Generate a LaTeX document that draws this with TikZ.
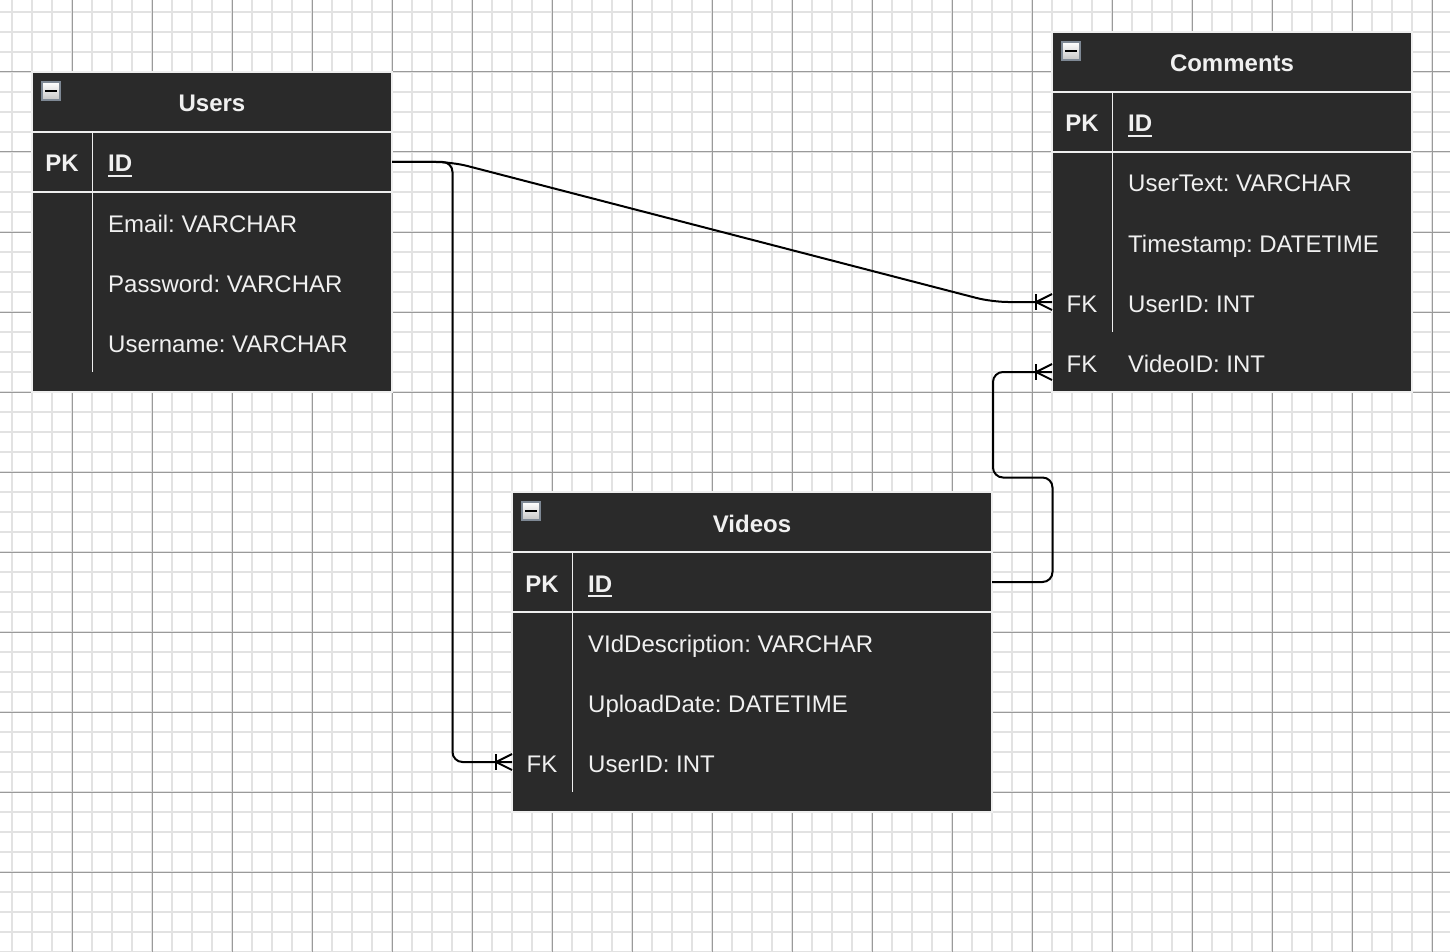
\documentclass[tikz,border=0pt]{standalone}
\usepackage{fontspec}
\setmainfont{Liberation Sans}
\usetikzlibrary{calc}
\frenchspacing

\definecolor{tablefill}{HTML}{2A2A2A}
\definecolor{tabletext}{HTML}{F0F0F0}
\definecolor{sepline}{HTML}{EEEEEE}
\definecolor{gridminorc}{HTML}{E2E2E2}
\definecolor{gridmajorc}{HTML}{9A9A9A}
\definecolor{iconedge}{HTML}{7E8894}

\tikzset{
  gridminor/.style={draw=gridminorc, line width=1.6pt},
  gridmajor/.style={draw=gridmajorc, line width=1pt},
  tablebox/.style={rectangle, fill=tablefill, draw=sepline, line width=1.4pt,
    inner sep=0pt, outer sep=0pt, anchor=north west},
  rowbox/.style={rectangle, minimum height=60pt, inner sep=0pt, outer sep=0pt,
    anchor=north west},
  sep/.style={draw=sepline, line width=1.6pt},
  title/.style={text=tabletext, inner sep=0pt, anchor=base, font=\fontsize{24}{28}\bfseries\selectfont},
  keytxt/.style={text=tabletext, inner sep=0pt, anchor=base},
  pktxt/.style={keytxt, font=\fontsize{24}{28}\bfseries\selectfont},
  attr/.style={text=tabletext, inner sep=0pt, anchor=base west},
  pkattr/.style={attr, font=\fontsize{24}{28}\bfseries\selectfont},
  uline/.style={draw=tabletext, line width=1.7pt},
  minusbox/.style={rectangle, draw=iconedge, line width=1.2pt, top color=white,
    bottom color=gray!45, minimum size=18pt, inner sep=0pt, outer sep=0pt,
    anchor=north west},
  conn/.style={draw=black, line width=2pt},
  crowsfoot/.pic={
    \draw[conn] (0,-8) -- (-16,0) -- (0,8);
    \draw[conn] (-16,-8) -- (-16,8);
  }
}

\begin{document}
\begin{tikzpicture}[x=1pt, y=-1pt, font=\fontsize{24}{28}\selectfont]
  % canvas and grid
  \fill[white] (0,0) rectangle (1450,952);
  \useasboundingbox (0,0) rectangle (1450,952);
  \foreach \gx in {12,32,...,1450} \draw[gridminor] (\gx,0) -- (\gx,952);
  \foreach \gy in {12,32,...,952} \draw[gridminor] (0,\gy) -- (1450,\gy);
  \foreach \gx in {72,152,...,1450} \draw[gridmajor] (\gx,0) -- (\gx,952);
  \foreach \gy in {72,152,...,952} \draw[gridmajor] (0,\gy) -- (1450,\gy);

  % ---------------- Users ----------------
  \node[tablebox, minimum width=360pt, minimum height=320pt] (users) at (32,72) {};
  \node[rowbox, minimum width=360pt] (users-head) at (32,72) {};
  \node[rowbox, minimum width=360pt] (users-id) at (32,132) {};
  \node[rowbox, minimum width=360pt] (users-email) at (32,192) {};
  \node[rowbox, minimum width=360pt] (users-password) at (32,252) {};
  \node[rowbox, minimum width=360pt] (users-username) at (32,312) {};
  \draw[sep] (users-id.north west) -- (users-id.north east);
  \draw[sep] (users-id.south west) -- (users-id.south east);
  \draw[sep] ($(users-id.north west)+(60.5,0)$) -- ($(users-username.south west)+(60.5,0)$);
  \node[minusbox] (users-min) at (42,82) {};
  \draw[line width=2.4pt] ($(users-min.center)+(-6,0)$) -- ($(users-min.center)+(6,0)$);
  \node[title] (users-title) at (212,112) {Users};
  \node[pktxt] (users-pk) at (62,172) {PK};
  \node[pkattr] (users-idtxt) at (108,172) {ID};
  \draw[uline] ($(users-idtxt.base west)+(0,4)$) -- ($(users-idtxt.base east)+(0,4)$);
  \node[attr] (users-emailtxt) at (108,232) {Email: VARCHAR};
  \node[attr] (users-passwordtxt) at (108,292) {Password: VARCHAR};
  \node[attr] (users-usernametxt) at (108,352) {Username: VARCHAR};

  % ---------------- Comments ----------------
  \node[tablebox, minimum width=360pt, minimum height=360pt] (comments) at (1052,32) {};
  \node[rowbox, minimum width=360pt] (comments-head) at (1052,32) {};
  \node[rowbox, minimum width=360pt] (comments-id) at (1052,92) {};
  \node[rowbox, minimum width=360pt] (comments-usertext) at (1052,152) {};
  \node[rowbox, minimum width=360pt] (comments-timestamp) at (1052,212) {};
  \node[rowbox, minimum width=360pt] (comments-userid) at (1052,272) {};
  \node[rowbox, minimum width=360pt] (comments-videoid) at (1052,332) {};
  \draw[sep] (comments-id.north west) -- (comments-id.north east);
  \draw[sep] (comments-id.south west) -- (comments-id.south east);
  \draw[sep] ($(comments-id.north west)+(60.5,0)$) -- ($(comments-userid.south west)+(60.5,0)$);
  \node[minusbox] (comments-min) at (1062,42) {};
  \draw[line width=2.4pt] ($(comments-min.center)+(-6,0)$) -- ($(comments-min.center)+(6,0)$);
  \node[title] (comments-title) at (1232,72) {Comments};
  \node[pktxt] (comments-pk) at (1082,132) {PK};
  \node[pkattr] (comments-idtxt) at (1128,132) {ID};
  \draw[uline] ($(comments-idtxt.base west)+(0,4)$) -- ($(comments-idtxt.base east)+(0,4)$);
  \node[attr] (comments-usertexttxt) at (1128,192) {UserText: VARCHAR};
  \node[attr] (comments-timestamptxt) at (1128,252) {Timestamp: DATETIME};
  \node[keytxt] (comments-fk1) at (1082,312) {FK};
  \node[attr] (comments-useridtxt) at (1128,312) {UserID: INT};
  \node[keytxt] (comments-fk2) at (1082,372) {FK};
  \node[attr] (comments-videoidtxt) at (1128,372) {VideoID: INT};

  % ---------------- Videos ----------------
  \node[tablebox, minimum width=480pt, minimum height=320pt] (videos) at (512,492) {};
  \node[rowbox, minimum width=480pt] (videos-head) at (512,492) {};
  \node[rowbox, minimum width=480pt] (videos-id) at (512,552) {};
  \node[rowbox, minimum width=480pt] (videos-desc) at (512,612) {};
  \node[rowbox, minimum width=480pt] (videos-upload) at (512,672) {};
  \node[rowbox, minimum width=480pt] (videos-userid) at (512,732) {};
  \draw[sep] (videos-id.north west) -- (videos-id.north east);
  \draw[sep] (videos-id.south west) -- (videos-id.south east);
  \draw[sep] ($(videos-id.north west)+(60.5,0)$) -- ($(videos-userid.south west)+(60.5,0)$);
  \node[minusbox] (videos-min) at (522,502) {};
  \draw[line width=2.4pt] ($(videos-min.center)+(-6,0)$) -- ($(videos-min.center)+(6,0)$);
  \node[title] (videos-title) at (752,532) {Videos};
  \node[pktxt] (videos-pk) at (542,592) {PK};
  \node[pkattr] (videos-idtxt) at (588,592) {ID};
  \draw[uline] ($(videos-idtxt.base west)+(0,4)$) -- ($(videos-idtxt.base east)+(0,4)$);
  \node[attr] (videos-desctxt) at (588,652) {VIdDescription: VARCHAR};
  \node[attr] (videos-uploadtxt) at (588,712) {UploadDate: DATETIME};
  \node[keytxt] (videos-fk) at (542,772) {FK};
  \node[attr] (videos-useridtxt) at (588,772) {UserID: INT};

  % ---------------- relationships ----------------
  \coordinate (comments-videoid-in) at ($(comments-videoid.west)+(0,10)$);

  % Users.ID -> Comments.UserID
  \draw[conn, rounded corners=16pt] (users-id.east) -- ++(60,0)
    -- ($(comments-userid.west)+(-60,0)$) -- (comments-userid.west);
  % Users.ID -> Videos.UserID
  \draw[conn, rounded corners=10pt] (users-id.east) -- ++(60.5,0) |- (videos-userid.west);
  % Videos.ID -> Comments.VideoID
  \draw[conn, rounded corners=10pt] (videos-id.east) -- ++(60.5,0) -- ++(0,-104.5)
    -- ++(-59.5,0) |- (comments-videoid-in);

  % crow's feet (one-to-many) at the referencing ends
  \pic at (comments-userid.west) {crowsfoot};
  \pic at (comments-videoid-in) {crowsfoot};
  \pic at (videos-userid.west) {crowsfoot};
\end{tikzpicture}
\end{document}
